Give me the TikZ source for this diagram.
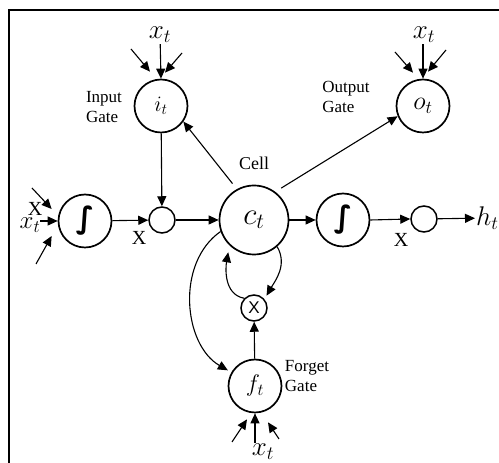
\RequirePackage{fix-cm}
\documentclass[tikz,border=0pt]{standalone}
\usepackage{fontspec}
\setmainfont{Liberation Serif}
\newfontfamily\symfont{DejaVu Sans}
\newfontfamily\glyphsans{Liberation Sans}
\usetikzlibrary{arrows.meta}
\begin{document}
\begin{tikzpicture}[x=1pt,y=1pt,
  gate/.style={circle,draw,line width=1.7pt,minimum size=53pt,inner sep=0pt},
  cellnode/.style={gate,minimum size=69pt},
  dot/.style={circle,draw,line width=1.5pt,minimum size=26pt,inner sep=0pt},
  arr/.style={-{Triangle[length=10pt,width=9pt]},line width=1.1pt},
  lbl/.style={font=\fontsize{17}{19.5}\selectfont,align=left,inner sep=0pt},
  var/.style={font=\fontsize{27}{27}\selectfont,inner sep=1pt},
  mark x/.style={font=\fontsize{20}{20}\selectfont,inner sep=0pt},
  sig/.style={font=\symfont\bfseries\fontsize{30}{30}\selectfont}
]
\useasboundingbox (0,0) rectangle (499,463);
% frame
\draw[line width=2pt] (8.5,0) -- (8.5,453) -- (499,453);

% main nodes
\node[gate] (it) at (161,357) {\fontsize{22}{22}\selectfont$i_t$};
\node[gate] (ot) at (423,357) {\fontsize{26}{26}\selectfont$o_t$};
\node[cellnode] (ct) at (254,243) {\fontsize{31}{31}\selectfont$c_t$};
\node[gate] (sl) at (85,242) {};
\node[sig] at (sl) {∫};
\node[dot] (ml) at (162,243) {};
\node[gate] (sr) at (343,243) {};
\node[sig] at (sr) {∫};
\node[dot] (mr) at (424,244) {};
\node[dot] (mf) at (254,155) {\glyphsans\fontsize{17}{17}\selectfont X};
\node[gate] (ft) at (255,77) {\fontsize{24}{24}\selectfont$f_t$};

% labels
\node[var] (xi) at (160,428) {$x_t$};
\node[var] (xo) at (424,428) {$x_t$};
\node[var] (xf) at (263,11) {$x_t$};
\node[var,anchor=west] (ht) at (475,245) {$h_t$};
\node[lbl] (lin) at (104,356) {Input\\Gate};
\node[lbl] (lout) at (346,366) {Output\\Gate};
\node[lbl,font=\fontsize{18}{18}\selectfont] (lcell) at (254,300) {Cell};
\node[lbl] (lfor) at (307,87) {Forget\\Gate};
\node[mark x] (xl) at (139,225) {X};
\node[mark x] (xr) at (401,223) {X};
\node[mark x] (xa) at (35,254) {X};
\node[var,font=\fontsize{25}{25}\selectfont] (xs) at (30,238) {$x_t$};

% free ends of the input arrows
\coordinate (i1) at (131,414);
\coordinate (i2) at (182,410);
\coordinate (o1) at (395,411);
\coordinate (o2) at (446,413);
\coordinate (f1) at (232,21);
\coordinate (f2) at (279,24);
\coordinate (s1) at (32,275);
\coordinate (s2) at (40,242);
\coordinate (s3) at (36,199);

% gate inputs
\draw[arr] (i1) -- ([shift={(-11,7)}]it.north);
\draw[arr] (xi) -- (it.north);
\draw[arr] (i2) -- ([shift={(4,6)}]it.north);
\draw[arr] (o1) -- ([shift={(-10,6)}]ot.north);
\draw[arr] (xo.south -| ot.north) -- (ot.north);
\draw[arr] (o2) -- ([shift={(5,7)}]ot.north);
\draw[arr] (f1) -- ([shift={(-8,-6)}]ft.south);
\draw[arr] (xf.north -| ft.south) -- (ft.south);
\draw[arr] (f2) -- ([shift={(13,-9)}]ft.south);
\draw[arr] (s1) -- ([shift={(-6,12)}]sl.west);
\draw[arr] (s2) -- (sl.west);
\draw[arr] (s3) -- ([shift={(-6,-15)}]sl.west);

% main flow
\draw[arr] (sl) -- (ml);
\draw[arr] (it) -- (ml);
\draw[arr] (ml) -- (ct);
\draw[arr] (ct) -- (sr);
\draw[arr] (sr.east) -- (mr.west);
\draw[arr] (mr) -- (ht);
\draw[arr,shorten <=7pt] (ct.119) -- (it.-35);
\draw[arr,shorten <=7pt] (ct.53) -- (ot.202);
\draw[arr] (ft) -- (mf);

% recurrent loops
\draw[arr,shorten >=7pt] (mf.135) to[out=170,in=-100] (ct.226);
\draw[arr,shorten >=4pt] (ct.-49) to[out=-60,in=60] (mf.40);
\draw[arr,shorten >=4pt] (ct.199) to[out=215,in=150] (ft.150);
\end{tikzpicture}
\end{document}
